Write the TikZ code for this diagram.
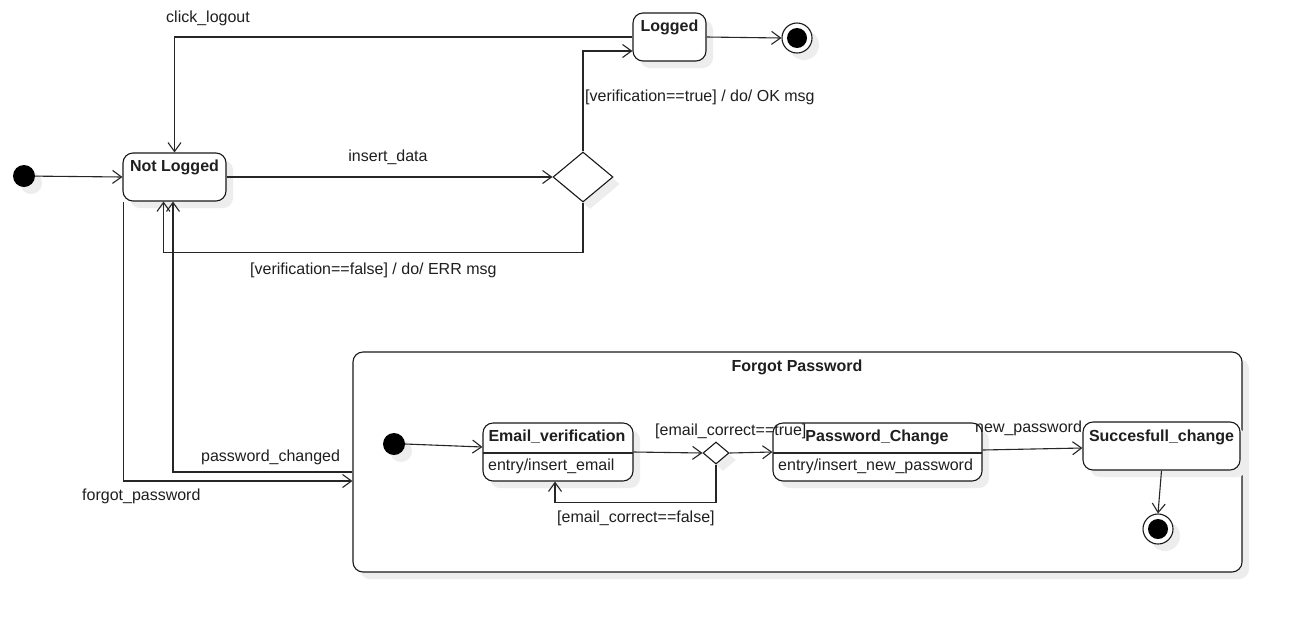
\documentclass[tikz,border=0pt]{standalone}
\usepackage{fontspec}
\setmainfont{Liberation Sans}
\usetikzlibrary{arrows.meta,shapes.geometric,calc,shadows}
\begin{document}
\fontsize{16}{19}\selectfont
\begin{tikzpicture}[x=1pt,y=-1pt,
  every node/.style={text=black!88},
  arr/.style={draw=black!85, line width=1.1pt, -{Straight Barb[length=9pt,width=13pt,line width=1.1pt]}},
  ln/.style={draw=black!85, line width=1.1pt},
  shd/.style={drop shadow={shadow xshift=7pt,shadow yshift=-7pt,fill=black!7,opacity=1}},
  state/.style={draw=black!90, line width=1.1pt, rounded corners=10pt, fill=white, shd, inner sep=0pt},
  dec/.style={diamond, draw=black!90, line width=1.1pt, fill=white, shd, inner sep=0pt},
  initst/.style={circle, fill=black, shd, inner sep=0pt, minimum size=22pt},
  finalst/.style={circle, draw=black!90, line width=1.1pt, fill=white, shd, inner sep=0pt, minimum size=30pt},
  ttl/.style={font=\bfseries, inner sep=0pt},
  lbl/.style={inner sep=0pt}
]
\useasboundingbox (0,0) rectangle (1292,622);
\fill[white] (0,0) rectangle (1292,622);

% ---- top level states ----
\node[initst] (I1) at (24,176) {};
\node[state, minimum width=103pt, minimum height=48pt] (NL) at (174.5,177) {};
\node[ttl] at (174.5,167) {Not Logged};
\node[state, minimum width=73pt, minimum height=48pt] (LG) at (669.5,37) {};
\node[ttl] at (669.5,27) {Logged};
\node[finalst] (F1) at (797,38) {};
\fill (F1.center) circle (10pt);
\node[dec, minimum width=60pt, minimum height=50pt] (D1) at (583,177) {};

% ---- composite state ----
\node[state, minimum width=889pt, minimum height=220pt] (FP) at (797.5,462) {};
\node[ttl] at (797,367) {Forgot Password};
\node[initst] (I2) at (394,444) {};
\node[state, minimum width=150pt, minimum height=58pt] (EV) at (558,452) {};
\draw[ln] (483,453) -- (633,453);
\node[ttl] at (557,437) {Email\_verification};
\node[lbl, anchor=west] at (488,466) {entry/insert\_email};
\node[dec, minimum width=26pt, minimum height=22pt] (D2) at (716,453) {};
\node[state, minimum width=209pt, minimum height=58pt] (PC) at (877.5,452) {};
\draw[ln] (773,453) -- (982,453);
\node[ttl] at (877,437) {Password\_Change};
\node[lbl, anchor=west] at (778,466) {entry/insert\_new\_password};
\node[state, minimum width=157pt, minimum height=48pt] (SC) at (1161.5,446) {};
\node[ttl] at (1161.5,437) {Succesfull\_change};
\node[finalst] (F2) at (1158,529) {};
\fill (F2.center) circle (10pt);

% ---- transitions (top level) ----
\draw[arr] (I1) -- (NL.west);
\draw[arr] (LG.east) -- (F1.west);
\draw[arr] (LG.west) -| (NL.north);
\draw[arr] (NL.east) -- (D1.west);
\draw[arr] (D1.north) |- ($(LG.west)+(0,14)$);
\draw[arr] (D1.south) -- ++(0,50) -| ($(NL.south)+(-11,0)$);
\draw[arr] ($(NL.south west)+(1,0)$) |- ($(FP.west)+(0,19)$);
\draw[arr] ($(FP.west)+(0,10)$) -| ($(NL.south)+(-1.5,0)$);

\node[lbl] at (208,18) {click\_logout};
\node[lbl] at (388,157) {insert\_data};
\node[lbl, anchor=west] at (585,97) {[verification==true] / do/ OK msg};
\node[lbl, anchor=west] at (250,270) {[verification==false] / do/ ERR msg};
\node[lbl, anchor=west] at (82,496) {forgot\_password};
\node[lbl, anchor=west] at (201,457) {password\_changed};

% ---- transitions (inside composite) ----
\draw[arr] (I2.east) -- ($(EV.west)+(0,-5)$);
\draw[arr] (EV.east) -- (D2.west);
\draw[arr] (D2.east) -- (PC.west);
\draw[arr] (D2.south) -- ++(0,38) -| ($(EV.south)+(-3,0)$);
\draw[arr] ($(PC.east)+(0,-2)$) -- ($(SC.west)+(0,2)$);
\draw[arr] (SC.south) -- (F2.north);

\node[lbl, anchor=west] at (655,431) {[email\_correct==true]};
\node[lbl, anchor=west] at (557,518) {[email\_correct==false]};
\node[lbl, anchor=west] at (975,428) {new\_password};
\end{tikzpicture}
\end{document}
